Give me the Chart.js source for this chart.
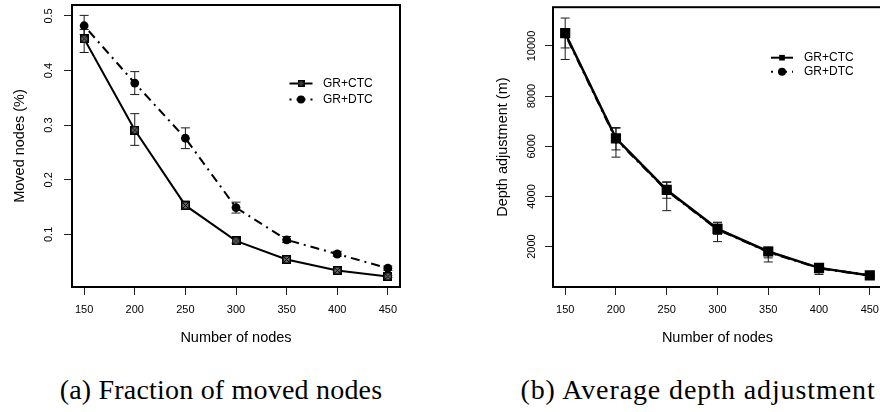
<!DOCTYPE html>
<html>
<head>
<meta charset="utf-8">
<script src="https://cdn.jsdelivr.net/npm/chart.js@4/dist/chart.umd.min.js"></script>
<style>
  html, body { margin: 0; padding: 0; background: #fff; overflow: hidden; }
  body { width: 880px; height: 412px; position: relative; }
  .panel { position: absolute; top: 0; }
  #panelA { left: 0; }
  #panelB { left: 440px; }
  .caption {
    position: absolute; top: 374px; line-height: 32px;
    font-family: "Liberation Serif", "Times New Roman", serif;
    font-size: 28px; white-space: nowrap;
    transform: translateX(-50%); color: #000;
  }
</style>
</head>
<body>
<div class="panel" id="panelA"><canvas id="chartA" width="440" height="350"></canvas></div>
<div class="panel" id="panelB"><canvas id="chartB" width="460" height="350"></canvas></div>
<div class="caption" style="left:221px; letter-spacing:0.2px">(a) Fraction of moved nodes</div>
<div class="caption" style="left:698px; letter-spacing:0.9px">(b) Average depth adjustment</div>

<script>
const nodes = [150, 200, 250, 300, 350, 400, 450];

// (a) fraction of moved nodes, mean and error bounds
const movedCtc     = [0.458, 0.291, 0.153, 0.088, 0.054, 0.034, 0.023];
const movedCtcLow  = [0.433, 0.263, 0.146, 0.084, 0.051, 0.031, 0.021];
const movedCtcHigh = [0.475, 0.321, 0.161, 0.093, 0.058, 0.037, 0.025];
const movedDtc     = [0.482, 0.377, 0.276, 0.149, 0.090, 0.064, 0.038];
const movedDtcLow  = [0.466, 0.356, 0.257, 0.139, 0.085, 0.060, 0.034];
const movedDtcHigh = [0.501, 0.398, 0.295, 0.159, 0.096, 0.069, 0.042];
const movedTicks = [0.1, 0.2, 0.3, 0.4, 0.5];

// (b) average depth adjustment (m)
const depthCtc     = [10510, 6315, 4258, 2708, 1805, 1151, 850];
const depthCtcLow  = [9461, 5567, 3432, 2198, 1386, 888, 802];
const depthCtcHigh = [11113, 6747, 4584, 2972, 1980, 1300, 900];
const depthDtc     = [10480, 6290, 4240, 2690, 1790, 1140, 845];
const depthDtcLow  = [9921, 5855, 3927, 2487, 1550, 950, 810];
const depthDtcHigh = [10650, 6720, 4560, 2950, 1950, 1280, 890];
const depthTicks = [2000, 4000, 6000, 8000, 10000];

const seriesLabels = ['GR+CTC', 'GR+DTC'];

const X_RANGE = [138, 462];
const MOVED_RANGE = [0.0036, 0.52];
const DEPTH_RANGE = [388, 11546];

const SANS = '"Liberation Sans", Arial, Helvetica, sans-serif';
const DOTDASH = [2, 5, 9, 5];

Chart.defaults.font.family = SANS;
Chart.defaults.color = '#000';

// square with a cross, like R's pch 7
function boxCross(size, fill) {
  const c = document.createElement('canvas');
  c.width = c.height = size;
  const g = c.getContext('2d');
  g.fillStyle = fill;
  g.fillRect(0, 0, size, size);
  g.strokeStyle = '#000';
  g.lineWidth = 1.6;
  g.strokeRect(0.8, 0.8, size - 1.6, size - 1.6);
  g.lineWidth = 1;
  g.beginPath();
  g.moveTo(1, 1); g.lineTo(size - 1, size - 1);
  g.moveTo(size - 1, 1); g.lineTo(1, size - 1);
  g.stroke();
  return c;
}

const toPoints = (ys) => nodes.map((n, i) => ({ x: n, y: ys[i] }));

const errorBars = {
  id: 'errorBars',
  beforeDatasetsDraw(chart, args, opts) {
    const { ctx, scales: { x, y } } = chart;
    ctx.save();
    ctx.strokeStyle = opts.color;
    ctx.lineWidth = opts.width;
    for (const ds of chart.data.datasets) {
      if (!ds.errLow) continue;
      ds.data.forEach((p, i) => {
        const px = x.getPixelForValue(p.x);
        const lo = y.getPixelForValue(ds.errLow[i]);
        const hi = y.getPixelForValue(ds.errHigh[i]);
        ctx.beginPath();
        ctx.moveTo(px, lo); ctx.lineTo(px, hi);
        ctx.moveTo(px - opts.cap, lo); ctx.lineTo(px + opts.cap, lo);
        ctx.moveTo(px - opts.cap, hi); ctx.lineTo(px + opts.cap, hi);
        ctx.stroke();
      });
    }
    ctx.restore();
  }
};

const plotFrame = {
  id: 'plotFrame',
  afterDatasetsDraw(chart, args, opts) {
    const { ctx, chartArea: a } = chart;
    ctx.save();
    ctx.strokeStyle = '#000';
    ctx.lineWidth = opts.width;
    ctx.strokeRect(a.left, a.top, a.right - a.left, a.bottom - a.top);
    ctx.restore();
  }
};

const insetLegend = {
  id: 'insetLegend',
  afterDraw(chart, args, opts) {
    const ctx = chart.ctx;
    ctx.save();
    ctx.font = `${opts.fontSize}px ${SANS}`;
    ctx.textBaseline = 'middle';
    chart.data.datasets.forEach((ds, i) => {
      const y = opts.y + i * opts.rowHeight;
      ctx.strokeStyle = '#000';
      ctx.fillStyle = '#000';
      ctx.lineWidth = 2;
      ctx.setLineDash(ds.borderDash || []);
      ctx.beginPath();
      ctx.moveTo(opts.x, y);
      ctx.lineTo(opts.x + opts.lineLength, y);
      ctx.stroke();
      ctx.setLineDash([]);
      Chart.helpers.drawPoint(ctx, {
        pointStyle: opts.markers[i], radius: opts.radius, rotation: 0, borderWidth: 0
      }, opts.x + opts.lineLength / 2, y);
      ctx.fillStyle = '#000';
      ctx.fillText(ds.label, opts.textX, y);
    });
    ctx.restore();
  }
};

function tickGrid() {
  return { drawOnChartArea: false, drawTicks: true, tickLength: 8, color: '#222', lineWidth: 1 };
}

function makeScales(p) {
  return {
    x: {
      type: 'linear', min: X_RANGE[0], max: X_RANGE[1],
      afterBuildTicks: (s) => { s.ticks = nodes.map(v => ({ value: v })); },
      afterFit: (s) => { s.height = p.xAxisHeight; s.paddingLeft = 0; s.paddingRight = 0; },
      grid: tickGrid(),
      border: { display: false },
      ticks: { font: { size: 11 }, padding: 8.4, maxRotation: 0, autoSkip: false, callback: v => String(v) },
      title: { display: true, text: 'Number of nodes', font: { size: 14.5 }, padding: { top: 0, bottom: 3.3 } }
    },
    y: {
      type: 'linear', min: p.yRange[0], max: p.yRange[1],
      afterBuildTicks: (s) => { s.ticks = p.yTicks.map(v => ({ value: v })); },
      afterFit: (s) => { s.width = p.yAxisWidth; s.paddingTop = 0; s.paddingBottom = 0; },
      grid: tickGrid(),
      border: { display: false },
      ticks: {
        font: { size: 11 }, minRotation: 90, maxRotation: 90, crossAlign: 'center',
        padding: p.yTickPad, autoSkip: false, callback: v => String(v)
      },
      title: { display: true, text: p.yTitle, font: { size: 14.5 }, padding: { top: p.yTitlePad, bottom: 0 } }
    }
  };
}

function renderPanel(canvasId, p) {
  return new Chart(document.getElementById(canvasId), {
    type: 'line',
    data: {
      datasets: [
        {
          label: seriesLabels[0], data: toPoints(p.ctc), errLow: p.ctcLow, errHigh: p.ctcHigh,
          borderColor: '#000', borderWidth: p.lineWidth, tension: 0,
          pointStyle: p.squareStyle, pointRadius: p.squareRadius,
          pointBackgroundColor: '#000', pointBorderColor: '#000', pointBorderWidth: 0
        },
        {
          label: seriesLabels[1], data: toPoints(p.dtc), errLow: p.dtcLow, errHigh: p.dtcHigh,
          borderColor: '#000', borderWidth: p.lineWidth, borderDash: DOTDASH, tension: 0,
          pointStyle: 'circle', pointRadius: 4.4,
          pointBackgroundColor: '#000', pointBorderColor: '#000', pointBorderWidth: 0
        }
      ]
    },
    options: {
      responsive: false,
      animation: false,
      layout: { padding: { left: 0, top: 3, right: p.rightPad, bottom: 0 } },
      scales: makeScales(p),
      plugins: {
        legend: { display: false },
        tooltip: { enabled: false },
        errorBars: { color: '#1a1a1a', width: 1, cap: 4.5 },
        plotFrame: { width: 2 },
        insetLegend: p.legend
      }
    },
    plugins: [errorBars, plotFrame, insetLegend]
  });
}

renderPanel('chartA', {
  ctc: movedCtc, ctcLow: movedCtcLow, ctcHigh: movedCtcHigh,
  dtc: movedDtc, dtcLow: movedDtcLow, dtcHigh: movedDtcHigh,
  yRange: MOVED_RANGE, yTicks: movedTicks, yTitle: 'Moved nodes (%)',
  xAxisHeight: 63, yAxisWidth: 72, rightPad: 40, yTickPad: 7, yTitlePad: 11.3,
  lineWidth: 2, squareStyle: boxCross(9, '#6e6e6e'), squareRadius: 5,
  legend: {
    x: 289.5, y: 83.5, rowHeight: 16, lineLength: 23, textX: 323, fontSize: 12, radius: 4,
    markers: [boxCross(7, '#6e6e6e'), 'circle']
  }
});

renderPanel('chartB', {
  ctc: depthCtc, ctcLow: depthCtcLow, ctcHigh: depthCtcHigh,
  dtc: depthDtc, dtcLow: depthDtcLow, dtcHigh: depthDtcHigh,
  yRange: DEPTH_RANGE, yTicks: depthTicks, yTitle: 'Depth adjustment (m)',
  xAxisHeight: 63, yAxisWidth: 113, rightPad: 18, yTickPad: -2, yTitlePad: 53.8,
  lineWidth: 2.5, squareStyle: 'rect', squareRadius: 7.2,
  legend: {
    x: 331, y: 57.7, rowHeight: 14, lineLength: 22, textX: 364, fontSize: 12, radius: 4,
    markers: ['rect', 'circle']
  }
});
</script>
</body>
</html>
